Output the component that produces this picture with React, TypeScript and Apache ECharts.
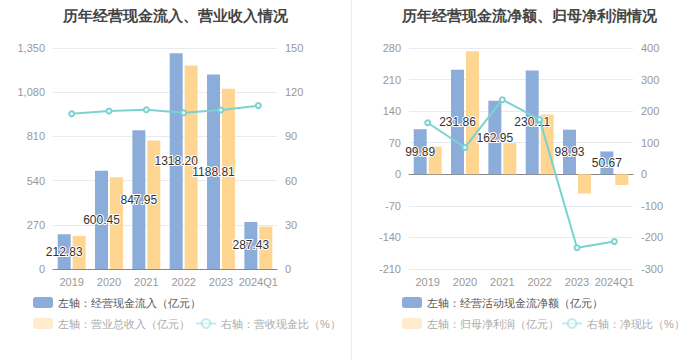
import React, { useEffect, useRef } from "react";
import * as echarts from "echarts";

const categories = ["2019", "2020", "2021", "2022", "2023", "2024Q1"];

// Left chart
const cashInflow = [212.83, 600.45, 847.95, 1318.2, 1188.81, 287.43];
const revenue = [201.9, 560.1, 784.4, 1242.4, 1101.8, 259.2];
const cashRevenueRatio = [105.4, 107.2, 108.1, 106.1, 107.9, 110.9];

// Right chart
const netCashFlow = [99.89, 231.86, 162.95, 230.11, 98.93, 50.67];
const netProfit = [61.2, 273.0, 69.0, 132.5, -42.5, -23.8];
const netCashRatio = [163.2, 84.9, 236.2, 173.7, -232.8, -212.9];

const BLUE = "#8CACDA";
const YELLOW = "#FFD592";
const CYAN = "#79D3D3";

export default function App() {
  const ref = useRef<HTMLDivElement>(null);
  useEffect(() => {
    if (!ref.current) return;
    const chart = echarts.init(ref.current, undefined, { renderer: "svg" });
    const axisLabel = { color: "#999", fontSize: 11 };
    const splitLine = { show: true, lineStyle: { color: "#E6EAF2" } };
    const barLabel = {
      show: true,
      position: "inside",
      color: "#333",
      fontSize: 12,
      textBorderColor: "#fff",
      textBorderWidth: 2,
      formatter: (p: any) => p.value.toFixed(2),
    };
    const legendBase = {
      orient: "horizontal",
      itemWidth: 20,
      itemHeight: 11,
      textStyle: { fontSize: 11, color: "#555" },
      selectedMode: false,
    };
    const fadedText = { fontSize: 11, color: "#AAA" };
    const option: any = {
      animation: false,
      title: [
        {
          text: "历年经营现金流入、营业收入情况",
          left: 170,
          textAlign: "center",
          top: 3,
          textStyle: { fontSize: 15, fontWeight: "bold", color: "#444" },
        },
        {
          text: "历年经营现金流净额、归母净利润情况",
          left: 524,
          textAlign: "center",
          top: 3,
          textStyle: { fontSize: 15, fontWeight: "bold", color: "#444" },
        },
      ],
      graphic: [
        {
          type: "line",
          shape: { x1: 351.5, y1: 0, x2: 351.5, y2: 360 },
          style: { stroke: "#EEEEEE", lineWidth: 1 },
        },
      ],
      legend: [
        { ...legendBase, left: 28, top: 292, data: ["左轴：经营现金流入（亿元）"] },
        {
          ...legendBase,
          left: 28,
          top: 313,
          textStyle: fadedText,
          data: [{ name: "左轴：营业总收入（亿元）", itemStyle: { opacity: 0.45 } }],
        },
        {
          ...legendBase,
          left: 190,
          top: 313,
          textStyle: fadedText,
          data: [
            {
              name: "右轴：营收现金比（%）",
              itemStyle: { opacity: 0.45 },
              lineStyle: { opacity: 0.45 },
            },
          ],
        },
        { ...legendBase, left: 397, top: 292, data: ["左轴：经营活动现金流净额（亿元）"] },
        {
          ...legendBase,
          left: 397,
          top: 313,
          textStyle: fadedText,
          data: [{ name: "左轴：归母净利润（亿元）", itemStyle: { opacity: 0.45 } }],
        },
        {
          ...legendBase,
          left: 556,
          top: 313,
          textStyle: fadedText,
          data: [
            {
              name: "右轴：净现比（%）",
              itemStyle: { opacity: 0.45 },
              lineStyle: { opacity: 0.45 },
            },
          ],
        },
      ],
      grid: [
        { left: 53, top: 48, width: 224, height: 221 },
        { left: 409, top: 48, width: 224, height: 221 },
      ],
      xAxis: [
        {
          type: "category",
          gridIndex: 0,
          data: categories,
          axisLine: { lineStyle: { color: "#888" } },
          axisTick: { alignWithLabel: true, lineStyle: { color: "#888" } },
          axisLabel: { ...axisLabel, margin: 7, interval: 0 },
        },
        {
          type: "category",
          gridIndex: 1,
          data: categories,
          axisLine: { onZero: true, lineStyle: { color: "#888" } },
          axisTick: { alignWithLabel: true, lineStyle: { color: "#888" } },
          axisLabel: { show: false },
        },
        {
          type: "category",
          gridIndex: 1,
          data: categories,
          position: "bottom",
          axisLine: { show: false, onZero: false },
          axisTick: { show: false },
          axisLabel: { ...axisLabel, margin: 7, interval: 0 },
        },
      ],
      yAxis: [
        {
          type: "value",
          gridIndex: 0,
          min: 0,
          max: 1350,
          interval: 270,
          axisLabel,
          splitLine,
          axisLine: { show: false },
          axisTick: { show: false },
        },
        {
          type: "value",
          gridIndex: 0,
          min: 0,
          max: 150,
          interval: 30,
          position: "right",
          axisLabel,
          splitLine: { show: false },
          axisLine: { show: false },
          axisTick: { show: false },
        },
        {
          type: "value",
          gridIndex: 1,
          min: -210,
          max: 280,
          interval: 70,
          axisLabel,
          splitLine,
          axisLine: { show: false },
          axisTick: { show: false },
        },
        {
          type: "value",
          gridIndex: 1,
          min: -300,
          max: 400,
          interval: 100,
          position: "right",
          axisLabel,
          splitLine: { show: false },
          axisLine: { show: false },
          axisTick: { show: false },
        },
      ],
      series: [
        {
          name: "左轴：经营现金流入（亿元）",
          type: "bar",
          xAxisIndex: 0,
          yAxisIndex: 0,
          data: cashInflow,
          barWidth: 13,
          barGap: "15%",
          itemStyle: { color: BLUE },
          label: barLabel,
          z: 2,
        },
        {
          name: "左轴：营业总收入（亿元）",
          type: "bar",
          xAxisIndex: 0,
          yAxisIndex: 0,
          data: revenue,
          barWidth: 13,
          barGap: "15%",
          itemStyle: { color: YELLOW },
          z: 1,
        },
        {
          name: "右轴：营收现金比（%）",
          type: "line",
          xAxisIndex: 0,
          yAxisIndex: 1,
          data: cashRevenueRatio,
          symbol: "emptyCircle",
          symbolSize: 5,
          itemStyle: { color: CYAN },
          lineStyle: { color: CYAN, width: 2 },
          z: 3,
        },
        {
          name: "左轴：经营活动现金流净额（亿元）",
          type: "bar",
          xAxisIndex: 1,
          yAxisIndex: 2,
          data: netCashFlow,
          barWidth: 13,
          barGap: "15%",
          itemStyle: { color: BLUE },
          label: barLabel,
          z: 2,
        },
        {
          name: "左轴：归母净利润（亿元）",
          type: "bar",
          xAxisIndex: 1,
          yAxisIndex: 2,
          data: netProfit,
          barWidth: 13,
          barGap: "15%",
          itemStyle: { color: YELLOW },
          z: 1,
        },
        {
          name: "右轴：净现比（%）",
          type: "line",
          xAxisIndex: 1,
          yAxisIndex: 3,
          data: netCashRatio,
          symbol: "emptyCircle",
          symbolSize: 5,
          itemStyle: { color: CYAN },
          lineStyle: { color: CYAN, width: 2 },
          z: 3,
        },
      ],
    };
    chart.setOption(option);
    return () => chart.dispose();
  }, []);
  return (
    <div
      ref={ref}
      style={{ position: "absolute", left: 0, top: 0, width: 700, height: 360, background: "#fff" }}
    />
  );
}
